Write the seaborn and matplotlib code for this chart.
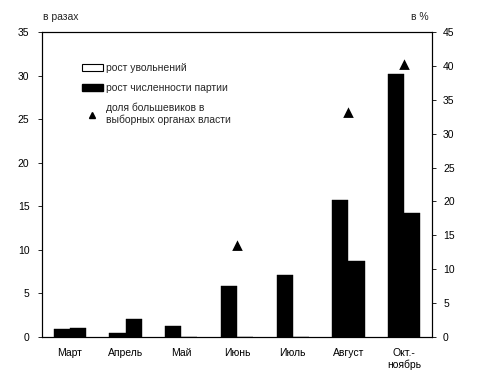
import matplotlib
matplotlib.use("Agg")
import matplotlib.pyplot as plt
from matplotlib.patches import Patch
from matplotlib.lines import Line2D
import seaborn as sns
import pandas as pd
import numpy as np

categories = ["Март", "Апрель", "Май", "Июнь", "Июль", "Август", "Окт.-\nноябрь"]
dismissals = [0.9, 0.45, 1.26, 5.8, 7.1, 15.7, 30.2]
party_growth = [1.03, 2.06, 0.0, 0.0, 0.0, 8.7, 14.2]
bolshevik_share = [np.nan, np.nan, np.nan, 13.5, np.nan, 33.1, 40.1]
series_names = ["рост увольнений", "рост численности партии",
                "доля большевиков в\nвыборных органах власти"]

sns.set_theme(style="white")
plt.rcParams["font.family"] = ["Liberation Sans", "DejaVu Sans"]

bars = pd.DataFrame({
    "cat": categories * 2,
    "val": dismissals + party_growth,
    "series": [series_names[0]] * len(categories) + [series_names[1]] * len(categories),
})
pts = pd.DataFrame({"cat": categories, "val": bolshevik_share}).dropna()

L, R, T, B = 42, 432, 32, 337
fig = plt.figure(figsize=(4.87, 3.80), dpi=100)
ax = fig.add_axes([L/487, 1-B/380, (R-L)/487, (B-T)/380])
sns.barplot(data=bars, x="cat", y="val", hue="series", order=categories,
            palette=["#000000", "#000000"], width=0.58, ax=ax,
            legend=False, saturation=1, edgecolor="black", linewidth=0.3)
ax.set_ylim(0, 35)
ax.set_yticks(range(0, 36, 5))
ax.set_xlabel("")
ax.set_ylabel("")

ax2 = ax.twinx()
sns.pointplot(data=pts, x="cat", y="val", order=categories, ax=ax2,
              color="black", markers="^", linestyle="none", markersize=5)
ax2.set_ylim(0, 45)
ax2.set_yticks(range(0, 46, 5))
ax2.set_ylabel("")
ax.set_xlim(-0.5, 6.5)
ax2.set_xlim(-0.5, 6.5)

for a in (ax, ax2):
    for s in a.spines.values():
        s.set_color("black")
        s.set_linewidth(0.8)
    a.tick_params(axis="both", labelsize=7.5, colors="black", length=3, width=0.6)
ax.tick_params(axis="x", length=0, pad=8)
ax.tick_params(axis="y", left=True, direction="out", pad=6)
ax2.tick_params(axis="y", right=True, direction="out", pad=5)

fig.text(43/487, 1-17/380, "в разах", fontsize=7.5, ha="left", va="center")
fig.text(429/487, 1-17/380, "в %", fontsize=7.5, ha="right", va="center")

handles = [
    Patch(facecolor="white", edgecolor="black", linewidth=0.8),
    Patch(facecolor="black", edgecolor="black"),
    Line2D([], [], marker="^", color="black", linestyle="none", markersize=5),
]
ax.legend(handles, series_names, loc="upper left",
          bbox_to_anchor=((82-L)/(R-L), (B-63)/(B-T)),
          frameon=False, fontsize=7.5, handlelength=2.0, handleheight=0.6,
          labelspacing=0.95, handletextpad=0.3, borderpad=0, borderaxespad=0)

fig.savefig("out.png", dpi=100)
